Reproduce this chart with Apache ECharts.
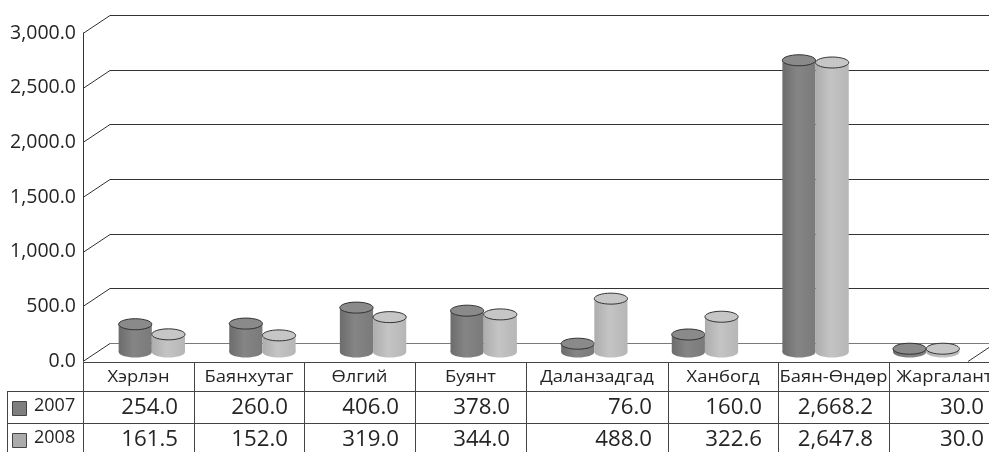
<!DOCTYPE html>
<html>
<head>
<meta charset="utf-8">
<script src="https://cdn.jsdelivr.net/npm/echarts@6/dist/echarts.min.js"></script>
<style>
  html, body { margin: 0; padding: 0; background: #fff; }
  #chart { width: 989px; height: 452px; }
</style>
</head>
<body>
<div id="chart"></div>
<script>
// ---- data ----
const categories = ['Хэрлэн', 'Баянхутаг', 'Өлгий', 'Буянт', 'Даланзадгад', 'Ханбогд', 'Баян-Өндөр', 'Жаргалант'];
const years = ['2007', '2008'];
const values2007 = [254.0, 260.0, 406.0, 378.0, 76.0, 160.0, 2668.2, 30.0];
const values2008 = [161.5, 152.0, 319.0, 344.0, 488.0, 322.6, 2647.8, 30.0];
const yTicks = [0, 500, 1000, 1500, 2000, 2500, 3000];

// ---- layout & style ----
const FONT = '"Open Sans", "Noto Sans", sans-serif';
const TEXT = '#252525';
const LINE = '#333';
const DEPTH_X = 27, DEPTH_Y = -18;          // offset of the back wall
const GRID = { left: 83, right: 21, top: 33, bottom: 91 };
const TABLE_COL_W = [111, 110, 111, 111, 142, 110, 111, 111];
const TABLE_LEFT = 83, TABLE_KEY_LEFT = 7;
const ROW_Y = [362, 391, 423, 452];         // row boundaries of the data table
const CYL_RY = 5.5;

const seriesColors = [
  { body: ['#6c6c6c', '#858585', '#7a7a7a'], top: '#8a8a8a', key: '#7f7f7f' },
  { body: ['#adadad', '#c4c4c4', '#b6b6b6'], top: '#c6c6c6', key: '#ababab' }
];

const fmt = v => v.toLocaleString('en-US', { minimumFractionDigits: 1, maximumFractionDigits: 1 });
const crisp = v => Math.round(v) + 0.5;

// left wall diagonals, back wall gridlines and floor
function wallItem(params, api) {
  const cs = params.coordSys;
  const v = api.value(1);
  const y = crisp(api.coord([0, v])[1]);
  const x0 = cs.x, x1 = cs.x + cs.width;
  const floor = v === 0;
  const kids = [
    { type: 'line', shape: { x1: x0, y1: y, x2: x0 + DEPTH_X, y2: y + DEPTH_Y }, style: { stroke: LINE, lineWidth: 1 } },
    { type: 'line', shape: { x1: x0 + DEPTH_X, y1: y + DEPTH_Y, x2: x1 + DEPTH_X + 20, y2: y + DEPTH_Y },
      style: { stroke: floor ? '#7a7a7a' : LINE, lineWidth: 1 } }
  ];
  if (floor) {
    kids.push({ type: 'line', shape: { x1: x1, y1: y, x2: x1 + DEPTH_X, y2: y + DEPTH_Y }, style: { stroke: LINE, lineWidth: 1 } });
  }
  return { type: 'group', children: kids };
}

// a cylinder standing in the middle of the floor depth
function cylinderRenderer(side, colors) {
  return function (params, api) {
    const i = api.value(0), v = api.value(1);
    const base = api.coord([i, 0]);
    const head = api.coord([i, v]);
    const bw = api.size([1, 0])[0];
    const rx = bw * 0.15;
    const cx = base[0] + DEPTH_X / 2 + side * rx;
    const yb = base[1] + DEPTH_Y / 2;
    const yt = head[1] + DEPTH_Y / 2;
    const grad = new echarts.graphic.LinearGradient(0, 0, 1, 0, [
      { offset: 0, color: colors.body[0] },
      { offset: 0.45, color: colors.body[1] },
      { offset: 1, color: colors.body[2] }
    ]);
    return {
      type: 'group',
      children: [
        { type: 'ellipse', shape: { cx: cx, cy: yb, rx: rx, ry: CYL_RY }, style: { fill: grad } },
        { type: 'rect', shape: { x: cx - rx, y: yt, width: 2 * rx, height: yb - yt }, style: { fill: grad } },
        { type: 'ellipse', shape: { cx: cx, cy: yt, rx: rx, ry: CYL_RY }, style: { fill: colors.top, stroke: LINE, lineWidth: 1 } }
      ]
    };
  };
}

// data table underneath the plot
function buildTable() {
  const els = [];
  const edges = [TABLE_LEFT];
  TABLE_COL_W.forEach(w => edges.push(edges[edges.length - 1] + w));
  const right = 989;
  const lineStyle = { stroke: '#444', lineWidth: 1 };
  // horizontal rules
  els.push({ type: 'line', shape: { x1: TABLE_LEFT, y1: ROW_Y[0] + 0.5, x2: right, y2: ROW_Y[0] + 0.5 }, style: lineStyle });
  els.push({ type: 'line', shape: { x1: TABLE_KEY_LEFT, y1: ROW_Y[1] + 0.5, x2: right, y2: ROW_Y[1] + 0.5 }, style: lineStyle });
  els.push({ type: 'line', shape: { x1: TABLE_KEY_LEFT, y1: ROW_Y[2] + 0.5, x2: right, y2: ROW_Y[2] + 0.5 }, style: lineStyle });
  // vertical rules
  els.push({ type: 'line', shape: { x1: TABLE_KEY_LEFT + 0.5, y1: ROW_Y[1], x2: TABLE_KEY_LEFT + 0.5, y2: ROW_Y[3] }, style: lineStyle });
  edges.forEach(x => {
    els.push({ type: 'line', shape: { x1: x + 0.5, y1: ROW_Y[0], x2: x + 0.5, y2: ROW_Y[3] }, style: lineStyle });
  });
  // category names
  categories.forEach((name, i) => {
    els.push({
      type: 'text', x: (edges[i] + edges[i + 1]) / 2, y: 377, scaleX: 1.08,
      style: { text: name, fill: TEXT, font: '17px ' + FONT, textAlign: 'center', textVerticalAlign: 'middle' }
    });
  });
  // value rows with legend keys
  [values2007, values2008].forEach((vals, r) => {
    const cy = r === 0 ? 408 : 440;
    els.push({
      type: 'rect', shape: { x: 12.5, y: cy - 6.5, width: 14, height: 14 },
      style: { fill: seriesColors[r].key, stroke: '#444', lineWidth: 1 }
    });
    els.push({
      type: 'text', x: 34, y: cy - 2,
      style: { text: years[r], fill: TEXT, font: '18px ' + FONT, textAlign: 'left', textVerticalAlign: 'middle' }
    });
    vals.forEach((v, i) => {
      els.push({
        type: 'text', x: edges[i + 1] - 16, y: cy, scaleX: 1.06,
        style: { text: fmt(v), fill: TEXT, font: '21px ' + FONT, textAlign: 'right', textVerticalAlign: 'middle' }
      });
    });
  });
  return els;
}

const chart = echarts.init(document.getElementById('chart'));
chart.setOption({
  animation: false,
  backgroundColor: '#fff',
  grid: GRID,
  xAxis: {
    type: 'category',
    data: categories,
    axisLine: { show: false },
    axisTick: { show: false },
    axisLabel: { show: false },
    splitLine: { show: false }
  },
  yAxis: {
    type: 'value',
    min: 0,
    max: 3000,
    interval: 500,
    axisLine: { show: true, lineStyle: { color: LINE, width: 1 } },
    axisTick: { show: false },
    splitLine: { show: false },
    axisLabel: { formatter: fmt, color: TEXT, fontFamily: FONT, fontSize: 19.5, margin: 7 }
  },
  series: [
    {
      type: 'custom', name: 'walls', silent: true, z: 1,
      renderItem: wallItem,
      encode: { x: 0, y: 1 },
      data: yTicks.map(v => [0, v])
    },
    {
      type: 'custom', name: years[0], z: 3,
      renderItem: cylinderRenderer(-1, seriesColors[0]),
      encode: { x: 0, y: 1 },
      data: values2007.map((v, i) => [i, v])
    },
    {
      type: 'custom', name: years[1], z: 4,
      renderItem: cylinderRenderer(1, seriesColors[1]),
      encode: { x: 0, y: 1 },
      data: values2008.map((v, i) => [i, v])
    }
  ],
  graphic: buildTable()
});
</script>
</body>
</html>
